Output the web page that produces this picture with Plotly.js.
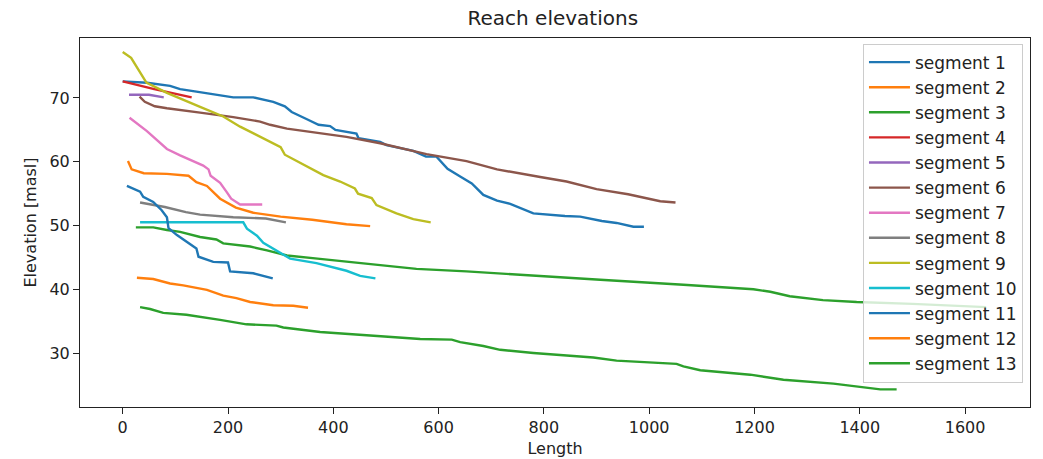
<!DOCTYPE html>
<html>
<head>
<meta charset="utf-8">
<script src="https://cdn.plot.ly/plotly-3.0.1.min.js"></script>
<style>html,body{margin:0;padding:0;background:#fff;}#chart{width:1043px;height:459px;}</style>
</head>
<body>
<div id="chart"></div>
<script>
const seriesNames = ["segment 1","segment 2","segment 3","segment 4","segment 5","segment 6","segment 7","segment 8","segment 9","segment 10","segment 11","segment 12","segment 13"];
const xTicks = [0, 200, 400, 600, 800, 1000, 1200, 1400, 1600];
const yTicks = [30, 40, 50, 60, 70];

const seg1X = [0, 46, 90, 109, 140, 178, 210, 248, 286, 308, 321, 349, 372, 394, 404, 444, 448, 489, 501, 552, 576, 596, 617, 641, 663, 685, 711, 736, 755, 780, 840, 869, 910, 938, 970, 990];
const seg1Y = [72.6, 72.4, 71.9, 71.4, 71.0, 70.5, 70.1, 70.1, 69.4, 68.7, 67.8, 66.7, 65.8, 65.6, 65.0, 64.4, 63.7, 63.1, 62.6, 61.7, 60.8, 60.8, 58.9, 57.7, 56.6, 54.8, 53.9, 53.4, 52.7, 51.9, 51.5, 51.4, 50.7, 50.4, 49.8, 49.8];
const seg2X = [10, 17, 40, 84, 125, 140, 160, 185, 215, 248, 300, 360, 425, 470];
const seg2Y = [60.1, 58.8, 58.2, 58.1, 57.8, 56.8, 56.2, 54.2, 52.8, 52.0, 51.4, 50.9, 50.2, 49.9];
const seg3X = [25, 58, 84, 109, 147, 178, 191, 242, 274, 312, 370, 508, 558, 653, 780, 907, 1065, 1198, 1230, 1267, 1330, 1394, 1500, 1640];
const seg3Y = [49.7, 49.7, 49.3, 49.0, 48.2, 47.8, 47.2, 46.7, 46.1, 45.3, 44.8, 43.6, 43.2, 42.8, 42.2, 41.5, 40.7, 40.0, 39.6, 38.9, 38.3, 38.0, 37.7, 37.2];
const seg4X = [0, 60, 131];
const seg4Y = [72.6, 71.4, 70.1];
const seg5X = [12, 50, 78];
const seg5Y = [70.5, 70.5, 70.1];
const seg6X = [32, 42, 61, 84, 147, 210, 261, 280, 312, 368, 425, 489, 577, 653, 711, 793, 843, 900, 960, 1021, 1050];
const seg6Y = [70.2, 69.4, 68.7, 68.4, 67.7, 67.0, 66.3, 65.8, 65.2, 64.5, 63.9, 62.9, 61.2, 60.1, 58.8, 57.6, 56.9, 55.7, 54.9, 53.8, 53.6];
const seg7X = [13, 46, 84, 109, 153, 163, 167, 185, 198, 206, 223, 265];
const seg7Y = [66.9, 64.8, 62.0, 61.0, 59.4, 58.8, 57.8, 56.7, 55.2, 54.2, 53.3, 53.3];
const seg8X = [33, 80, 120, 147, 210, 272, 310];
const seg8Y = [53.6, 52.9, 52.1, 51.7, 51.3, 51.1, 50.5];
const seg9X = [0, 16, 45, 84, 147, 191, 223, 261, 300, 308, 337, 381, 413, 441, 447, 473, 482, 520, 552, 585];
const seg9Y = [77.2, 76.3, 72.4, 70.8, 68.6, 67.1, 65.5, 63.9, 62.3, 61.1, 59.8, 57.9, 56.9, 55.8, 55.0, 54.3, 53.2, 51.9, 51.0, 50.5];
const seg10X = [33, 229, 236, 255, 267, 292, 318, 368, 425, 451, 480];
const seg10Y = [50.5, 50.5, 49.5, 48.4, 47.3, 46.1, 44.8, 44.1, 42.9, 42.1, 41.7];
const seg11X = [8, 33, 39, 58, 74, 84, 87, 103, 140, 144, 172, 200, 204, 248, 285];
const seg11Y = [56.2, 55.3, 54.5, 53.7, 52.4, 51.3, 49.6, 48.5, 46.4, 45.1, 44.3, 44.2, 42.8, 42.5, 41.7];
const seg12X = [27, 58, 90, 115, 160, 191, 216, 242, 286, 324, 352];
const seg12Y = [41.8, 41.6, 40.9, 40.6, 39.9, 39.0, 38.6, 38.0, 37.5, 37.4, 37.1];
const seg13X = [33, 52, 77, 121, 185, 235, 292, 305, 375, 463, 565, 625, 641, 685, 717, 780, 831, 894, 938, 1001, 1052, 1065, 1097, 1192, 1255, 1350, 1394, 1439, 1470];
const seg13Y = [37.2, 36.9, 36.3, 36.0, 35.2, 34.5, 34.3, 34.0, 33.3, 32.8, 32.2, 32.1, 31.7, 31.1, 30.5, 30.0, 29.7, 29.3, 28.8, 28.5, 28.3, 27.9, 27.3, 26.6, 25.8, 25.2, 24.7, 24.3, 24.3];

const allX = [seg1X, seg2X, seg3X, seg4X, seg5X, seg6X, seg7X, seg8X, seg9X, seg10X, seg11X, seg12X, seg13X];
const allY = [seg1Y, seg2Y, seg3Y, seg4Y, seg5Y, seg6Y, seg7Y, seg8Y, seg9Y, seg10Y, seg11Y, seg12Y, seg13Y];
const palette = ["#1f77b4","#ff7f0e","#2ca02c","#d62728","#9467bd","#8c564b","#e377c2","#7f7f7f","#bcbd22","#17becf"];

const FONT = "DejaVu Sans, sans-serif";
const traces = seriesNames.map((name, i) => ({
  type: "scatter",
  mode: "lines",
  name: name,
  x: allX[i],
  y: allY[i],
  legendgroup: "g" + i,
  line: {color: palette[i % palette.length], width: 2.4},
  hoverinfo: "skip"
}));

const layout = {
  width: 1043,
  height: 459,
  margin: {l: 80, r: 13, t: 38, b: 52, pad: 0},
  paper_bgcolor: "#ffffff",
  plot_bgcolor: "#ffffff",
  font: {family: FONT, size: 16, color: "#222222"},
  title: {text: "Reach elevations", font: {family: FONT, size: 20, color: "#222222"}, x: 0.53, xanchor: "center", y: 0.961, yanchor: "middle", yref: "container"},
  showlegend: true,
  legend: {
    x: 0.9926, xanchor: "right", y: 0.985, yanchor: "top",
    bgcolor: "rgba(255,255,255,0.8)", bordercolor: "#cccccc", borderwidth: 1,
    font: {family: FONT, size: 17, color: "#222222"},
    tracegroupgap: 3.5, traceorder: "normal", itemwidth: 41
  },
  xaxis: {
    range: [-81.1, 1723.3], autorange: false,
    tickmode: "array", tickvals: xTicks, ticktext: xTicks.map(String),
    ticks: "outside", ticklen: 6, tickwidth: 1, tickcolor: "#222",
    showline: true, linecolor: "#222", linewidth: 1, mirror: true,
    showgrid: false, zeroline: false,
    tickfont: {family: FONT, size: 16, color: "#222222"},
    title: {text: "Length", font: {family: FONT, size: 16, color: "#222222"}, standoff: 6}
  },
  yaxis: {
    range: [21.53, 79.41], autorange: false,
    tickmode: "array", tickvals: yTicks, ticktext: yTicks.map(String),
    ticks: "outside", ticklen: 6, tickwidth: 1, tickcolor: "#222",
    showline: true, linecolor: "#222", linewidth: 1, mirror: true,
    showgrid: false, zeroline: false,
    tickfont: {family: FONT, size: 16, color: "#222222"},
    title: {text: "Elevation [masl]", font: {family: FONT, size: 16, color: "#222222"}, standoff: 8}
  }
};

Plotly.newPlot("chart", traces, layout, {displayModeBar: false, staticPlot: true});
</script>
</body>
</html>
